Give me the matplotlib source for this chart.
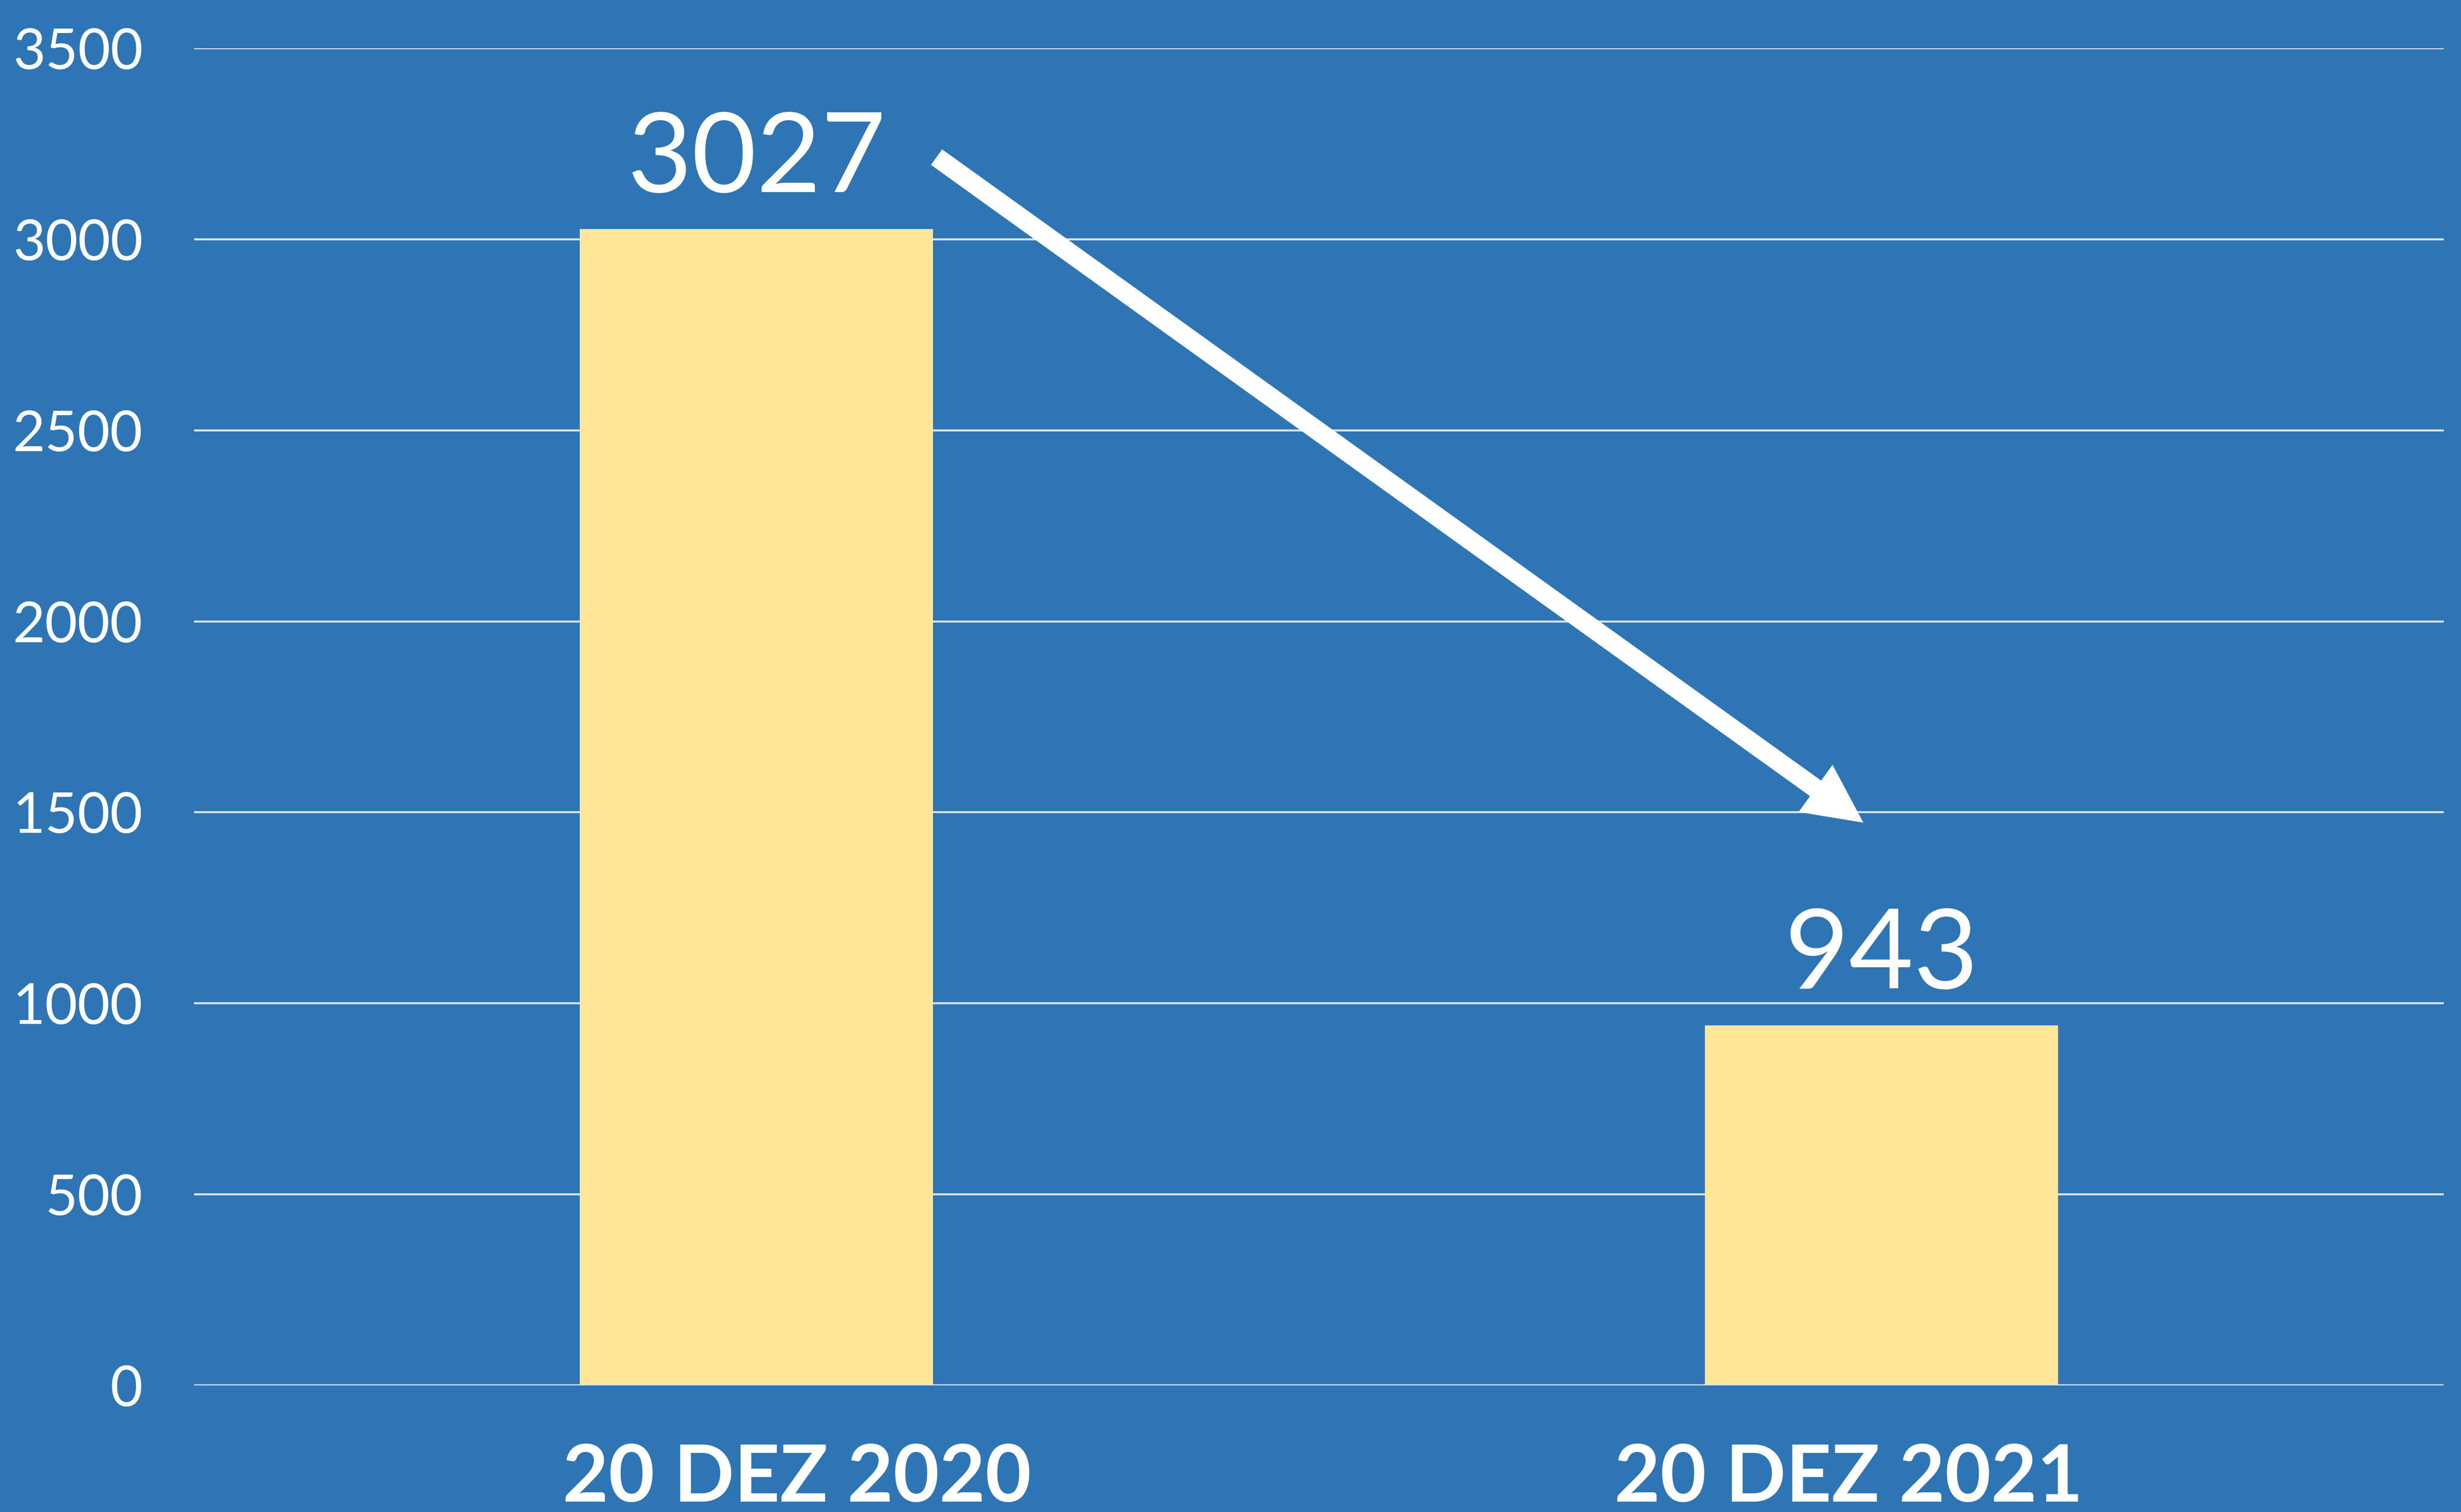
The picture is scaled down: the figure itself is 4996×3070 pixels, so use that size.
import matplotlib

matplotlib.use("Agg")
import matplotlib.pyplot as plt
from matplotlib.ticker import MultipleLocator

plt.rcParams["font.family"] = ["Lato", "DejaVu Sans"]

# data
categories = ["20 DEZ 2020", "20 DEZ 2021"]
values = [3027, 943]
y_ticks = [0, 500, 1000, 1500, 2000, 2500, 3000, 3500]

# arrow from the first value label down to the second bar (data coords)
arrow_tail = (0.16, 3215)
arrow_tip = (0.984, 1473)

BG = "#2E75B6"
BAR = "#FFE699"
GRID = "#D9E2F3"
# category labels are not exactly centred under the bars in the original
label_shift = [0.036, -0.029]

fig = plt.figure(figsize=(49.96, 30.70), dpi=100, facecolor=BG)
ax = fig.add_axes([0.0789, 0.0837, 0.9141, 0.8844])
ax.set_facecolor(BG)

positions = list(range(len(categories)))
ax.bar(positions, values, width=0.314, color=BAR, zorder=2)

ax.set_xlim(-0.5, len(categories) - 0.5)
ax.set_ylim(y_ticks[0], y_ticks[-1])
ax.set_yticks(y_ticks)
ax.yaxis.set_minor_locator(MultipleLocator(500))
ax.grid(axis="y", color=GRID, linewidth=3, zorder=1)
ax.axhline(0, color=GRID, linewidth=3.2, zorder=3)
ax.set_axisbelow(True)

for side in ("top", "right", "left", "bottom"):
    ax.spines[side].set_visible(False)

ax.tick_params(axis="y", length=0, pad=75, labelsize=82, labelcolor="white")
ax.set_xticks([])

for pos, val in zip(positions, values):
    ax.annotate(
        f"{val}",
        xy=(pos, val),
        xytext=(0, 54),
        textcoords="offset points",
        ha="center",
        va="baseline",
        fontsize=163,
        color="white",
    )

for pos, name, shift in zip(positions, categories, label_shift):
    ax.text(
        pos + shift,
        -0.087,
        name,
        transform=ax.get_xaxis_transform(),
        ha="center",
        va="baseline",
        fontsize=116,
        fontweight="bold",
        color="white",
    )

ax.annotate(
    "",
    xy=arrow_tip,
    xytext=arrow_tail,
    arrowprops=dict(
        arrowstyle="simple,head_length=86,head_width=85,tail_width=28",
        mutation_scale=1,
        fc="white",
        ec="none",
        shrinkA=0,
        shrinkB=0,
    ),
    zorder=4,
)

fig.savefig("out.png", dpi=100, facecolor=BG)
